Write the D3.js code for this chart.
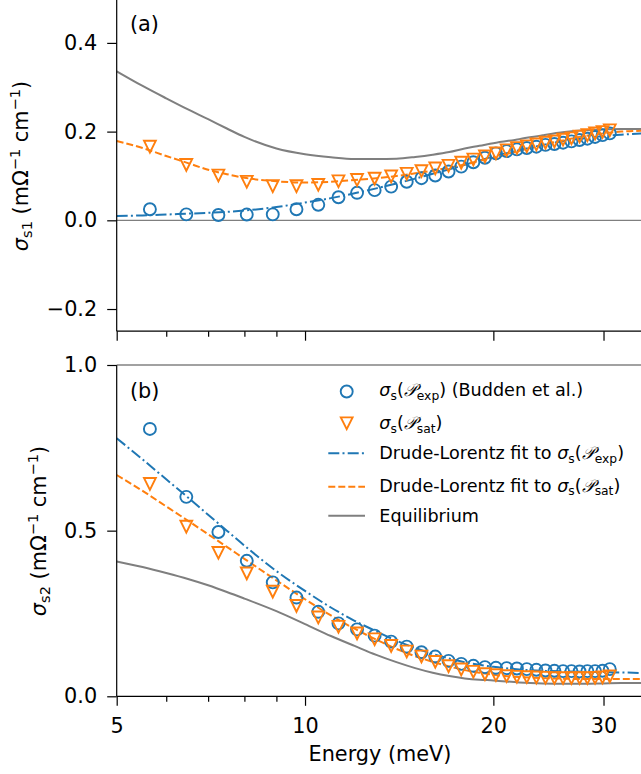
<!DOCTYPE html>
<html><head><meta charset="utf-8">
<script src="https://cdn.jsdelivr.net/npm/d3@7"></script>
<style>
body{margin:0;background:#fff}
text{font-family:"DejaVu Sans",sans-serif}
</style>
</head><body>
<svg id="chart" width="641" height="774"></svg>
<script>
// ---------- data ----------
const energies = [5.65,6.46,7.27,8.07,8.88,9.69,10.50,11.31,12.11,12.92,13.73,14.54,15.35,16.15,16.96,17.77,18.58,19.39,20.19,21.00,21.81,22.62,23.43,24.23,25.04,25.85,26.66,27.47,28.27,29.08,29.89,30.70];
const sigma1Exp = [0.025,0.0135,0.012,0.013,0.0135,0.025,0.035,0.052,0.062,0.068,0.076,0.087,0.095,0.101,0.110,0.121,0.131,0.141,0.151,0.156,0.160,0.163,0.166,0.170,0.172,0.175,0.178,0.181,0.184,0.188,0.192,0.196];
const sigma1Sat = [0.166,0.125,0.101,0.087,0.077,0.077,0.080,0.088,0.091,0.094,0.099,0.105,0.111,0.117,0.123,0.130,0.137,0.144,0.151,0.158,0.163,0.167,0.171,0.175,0.178,0.182,0.185,0.189,0.192,0.196,0.199,0.203];
const sigma2Exp = [0.807,0.602,0.496,0.409,0.344,0.298,0.255,0.220,0.202,0.183,0.165,0.150,0.133,0.120,0.107,0.098,0.092,0.088,0.086,0.085,0.084,0.082,0.080,0.078,0.077,0.076,0.076,0.075,0.076,0.076,0.077,0.082];
const sigma2Sat = [0.641,0.512,0.433,0.371,0.316,0.273,0.238,0.210,0.190,0.172,0.152,0.135,0.120,0.104,0.091,0.081,0.074,0.067,0.064,0.061,0.059,0.058,0.057,0.056,0.055,0.055,0.055,0.055,0.055,0.056,0.057,0.060];

const fitEnergies = [5,5.5,6,6.5,7,7.5,8,9,10,11,12,13,14,15,16,17,18,19,20,22,24,26,28,30,32,35];
const fit1Exp = [0.010,0.011,0.013,0.015,0.017,0.019,0.022,0.030,0.040,0.050,0.061,0.072,0.083,0.094,0.105,0.115,0.125,0.135,0.144,0.158,0.170,0.179,0.185,0.190,0.193,0.196];
const fit1Sat = [0.179,0.163,0.145,0.129,0.114,0.104,0.096,0.088,0.085,0.087,0.091,0.095,0.100,0.106,0.112,0.119,0.126,0.134,0.141,0.157,0.170,0.181,0.190,0.196,0.200,0.202];
const eq1 = [0.336,0.303,0.275,0.250,0.228,0.207,0.188,0.162,0.149,0.142,0.138,0.138,0.139,0.143,0.148,0.154,0.162,0.168,0.174,0.183,0.192,0.199,0.203,0.205,0.206,0.206];
const fit2Exp = [0.779,0.715,0.655,0.600,0.548,0.500,0.455,0.378,0.318,0.268,0.228,0.196,0.168,0.146,0.128,0.114,0.103,0.095,0.089,0.081,0.077,0.075,0.074,0.073,0.072,0.070];
const fit2Sat = [0.668,0.620,0.573,0.530,0.489,0.451,0.415,0.350,0.293,0.244,0.204,0.171,0.143,0.121,0.104,0.090,0.079,0.071,0.065,0.058,0.055,0.053,0.052,0.052,0.052,0.052];
const eq2 = [0.407,0.390,0.372,0.354,0.335,0.315,0.295,0.257,0.218,0.182,0.152,0.125,0.103,0.085,0.071,0.061,0.054,0.050,0.048,0.042,0.039,0.038,0.038,0.039,0.040,0.040];

const xMajorTicks = [5,10,20,30];
const xMinorTicks = [6,7,8,9];
const y1Ticks = [-0.2,0.0,0.2,0.4];
const y2Ticks = [0.0,0.5,1.0];

// ---------- setup ----------
const BLUE = "#1f77b4", ORANGE = "#ff7f0e", GRAY = "#7f7f7f";
const svg = d3.select("#chart");
const left = 116.7;
const x = d3.scaleLog().domain([5,35]).range([left, 645.4]);
const y1 = d3.scaleLinear().domain([-0.25,0.5]).range([331.2,-1.45]);
const y2 = d3.scaleLinear().domain([0,1]).range([696.3,365]);
const FS = 20.8, LFS = 17.6;
const MR = 6, TS = 5.9;

const defs = svg.append("defs");
defs.append("clipPath").attr("id","clip1").append("rect").attr("x",left).attr("y",-5).attr("width",700).attr("height",336.2);
defs.append("clipPath").attr("id","clip2").append("rect").attr("x",left).attr("y",365).attr("width",700).attr("height",331.3);

function styleAxis(g, fs){
  g.selectAll("path.domain").remove();
  g.selectAll(".tick line").attr("stroke","#000").attr("stroke-width",1.2);
  g.selectAll(".tick text").attr("font-size",fs).attr("fill","#000").attr("font-family","DejaVu Sans");
}

function tri(s){ return `M${-s},${-s}L${s},${-s}L0,${s}Z`; }

function drawPanel(yScale, clipId, data, ticks, opts){
  const g = svg.append("g");
  const plot = g.append("g").attr("clip-path",`url(#${clipId})`);
  if (opts.zeroLine){
    plot.append("line").attr("x1",left).attr("x2",641).attr("y1",yScale(0)).attr("y2",yScale(0))
      .attr("stroke",GRAY).attr("stroke-width",1.2);
  }
  const line = d3.line().x((d,i)=>x(fitEnergies[i])).y(d=>yScale(d)).curve(d3.curveMonotoneX);
  plot.append("path").attr("d",line(data.eq)).attr("fill","none").attr("stroke",GRAY).attr("stroke-width",2);
  plot.append("path").attr("d",line(data.fitExp)).attr("fill","none").attr("stroke",BLUE).attr("stroke-width",2)
    .attr("stroke-dasharray","11,3.2,2,3.2");
  plot.append("path").attr("d",line(data.fitSat)).attr("fill","none").attr("stroke",ORANGE).attr("stroke-width",2)
    .attr("stroke-dasharray","7,3");
  plot.selectAll("circle.exp").data(data.exp).join("circle").attr("class","exp")
    .attr("cx",(d,i)=>x(energies[i])).attr("cy",d=>yScale(d)).attr("r",MR)
    .attr("fill","none").attr("stroke",BLUE).attr("stroke-width",1.9);
  plot.selectAll("path.sat").data(data.sat).join("path").attr("class","sat")
    .attr("transform",(d,i)=>`translate(${x(energies[i])},${yScale(d)})`)
    .attr("d",tri(TS)).attr("fill","none").attr("stroke",ORANGE).attr("stroke-width",1.9).attr("stroke-linejoin","miter");

  const ya = g.append("g").attr("transform",`translate(${left},0)`)
    .call(d3.axisLeft(yScale).tickValues(ticks).tickFormat(d3.format(".1f")).tickSize(9.5).tickPadding(10));
  styleAxis(ya, FS);
  const [r0,r1] = yScale.range();
  g.append("line").attr("x1",left).attr("x2",left).attr("y1",Math.max(r1,0)).attr("y2",r0).attr("stroke","#000").attr("stroke-width",1.2);
  g.append("line").attr("x1",left).attr("x2",641).attr("y1",r0).attr("y2",r0).attr("stroke","#000").attr("stroke-width",1.2);
  if (opts.topSpine){
    g.append("line").attr("x1",left).attr("x2",641).attr("y1",r1).attr("y2",r1).attr("stroke","#444").attr("stroke-width",1.2);
  }
  const xa = g.append("g").attr("transform",`translate(0,${r0})`)
    .call(d3.axisBottom(x).tickValues(xMajorTicks).tickFormat(opts.xLabels ? d3.format("d") : "").tickSize(9.5).tickPadding(12));
  styleAxis(xa, FS);
  const xm = g.append("g").attr("transform",`translate(0,${r0})`)
    .call(d3.axisBottom(x).tickValues(xMinorTicks).tickFormat("").tickSize(5.5));
  styleAxis(xm, FS);
  return g;
}

drawPanel(y1,"clip1",{eq:eq1,fitExp:fit1Exp,fitSat:fit1Sat,exp:sigma1Exp,sat:sigma1Sat},y1Ticks,{zeroLine:true,xLabels:false,topSpine:false});
drawPanel(y2,"clip2",{eq:eq2,fitExp:fit2Exp,fitSat:fit2Sat,exp:sigma2Exp,sat:sigma2Sat},y2Ticks,{zeroLine:false,xLabels:true,topSpine:true});

svg.append("text").attr("x",130).attr("y",31).attr("font-size",FS).text("(a)");
svg.append("text").attr("x",130).attr("y",398).attr("font-size",FS).text("(b)");

svg.append("text").attr("x",380).attr("y",761).attr("text-anchor","middle").attr("font-size",FS).text("Energy (meV)");

function ylabel(xPos, yPos, sub){
  const t = svg.append("text").attr("transform",`translate(${xPos},${yPos}) rotate(-90)`)
    .attr("text-anchor","middle").attr("font-size",FS);
  t.append("tspan").attr("font-style","italic").text("σ");
  t.append("tspan").attr("font-size",FS*0.7).attr("dy",4).text(sub);
  t.append("tspan").attr("dy",-4).text(" (mΩ");
  t.append("tspan").attr("font-size",FS*0.7).attr("dy",-8).text("−1");
  t.append("tspan").attr("dy",8).text(" cm");
  t.append("tspan").attr("font-size",FS*0.7).attr("dy",-8).text("−1");
  t.append("tspan").attr("dy",8).text(")");
}
ylabel(28,166,"s1");
ylabel(46,531,"s2");

const legendRows = [
  {type:"circle", hy:391.5, ty:396, pre:"", sub:"exp", post:") (Budden et al.)"},
  {type:"tri", hy:423.3, ty:429, pre:"", sub:"sat", post:")"},
  {type:"dashdot", hy:453.3, ty:459.3, pre:"Drude-Lorentz fit to ", sub:"exp", post:")"},
  {type:"dash", hy:486.7, ty:491.7, pre:"Drude-Lorentz fit to ", sub:"sat", post:")"},
  {type:"solid", hy:515.7, ty:521.7, pre:"Equilibrium", sub:null, post:""}
];
const lg = svg.append("g");
legendRows.forEach(r=>{
  if (r.type==="circle"){
    lg.append("circle").attr("cx",346.7).attr("cy",r.hy).attr("r",MR).attr("fill","none").attr("stroke",BLUE).attr("stroke-width",1.9);
  } else if (r.type==="tri"){
    lg.append("path").attr("transform",`translate(346.7,${r.hy})`).attr("d",tri(TS)).attr("fill","none").attr("stroke",ORANGE).attr("stroke-width",1.9);
  } else {
    const col = r.type==="dashdot"?BLUE:(r.type==="dash"?ORANGE:GRAY);
    const l = lg.append("line").attr("x1",328.3).attr("x2",365).attr("y1",r.hy).attr("y2",r.hy).attr("stroke",col).attr("stroke-width",2);
    if (r.type==="dashdot") l.attr("stroke-dasharray","11,3.2,2,3.2");
    if (r.type==="dash") l.attr("stroke-dasharray","7,3");
  }
  const t = lg.append("text").attr("x",379.3).attr("y",r.ty).attr("font-size",LFS);
  if (r.sub===null){ t.text(r.pre); return; }
  if (r.pre) t.append("tspan").text(r.pre);
  t.append("tspan").attr("font-style","italic").text("σ");
  t.append("tspan").attr("font-size",LFS*0.7).attr("dy",3.5).text("s");
  t.append("tspan").attr("dy",-3.5).text("(");
  t.append("tspan").attr("font-style","italic").text("𝒫");
  t.append("tspan").attr("font-size",LFS*0.7).attr("dy",3.5).text(r.sub);
  t.append("tspan").attr("dy",-3.5).text(r.post);
});
</script>
</body></html>
